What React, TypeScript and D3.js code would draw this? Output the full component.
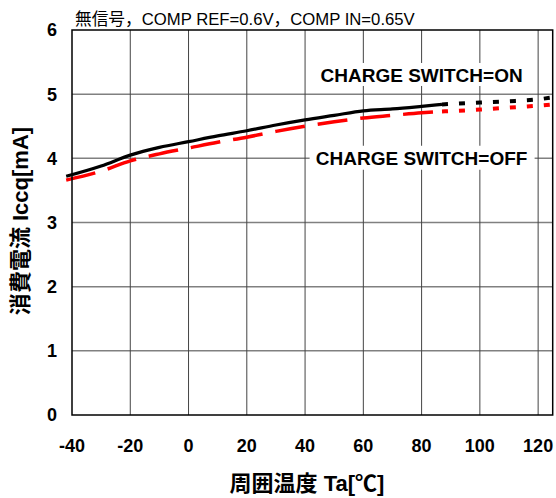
import React from "react";
import * as d3 from "d3";

// ---- data ----
const onTemps = [-42, -30, -20, -10, 0, 10, 20, 30, 40, 50, 60, 70, 80, 87];
const onValues = [3.72, 3.88, 4.05, 4.17, 4.26, 4.35, 4.43, 4.52, 4.6, 4.67, 4.74, 4.77, 4.81, 4.84];
const onExtTemps = [87, 100, 110, 120, 125];
const onExtValues = [4.84, 4.87, 4.89, 4.92, 4.95];

const offTemps = [-42, -30, -20, -10, 0, 10, 20, 30, 40, 50, 60, 70, 80, 87];
const offValues = [3.66, 3.8, 3.96, 4.07, 4.16, 4.25, 4.33, 4.42, 4.5, 4.57, 4.63, 4.67, 4.71, 4.73];
const offExtTemps = [87, 100, 110, 120, 125];
const offExtValues = [4.73, 4.76, 4.79, 4.82, 4.84];

const xTicks = [-40, -20, 0, 20, 40, 60, 80, 100, 120];
const yTicks = [0, 1, 2, 3, 4, 5, 6];

const titleText = "無信号，COMP REF=0.6V，COMP IN=0.65V";
const xTitle = "周囲温度 Ta[℃]";
const yTitle = "消費電流 Iccq[mA]";
const onLabel = "CHARGE SWITCH=ON";
const offLabel = "CHARGE SWITCH=OFF";

const FONT = "'Liberation Sans', Arial, 'Noto Sans CJK JP', sans-serif";

export default function App() {
  const W = 556;
  const H = 498;
  const left = 72;
  const right = 552.7;
  const top = 30;
  const bottom = 415;

  const x = d3.scaleLinear().domain([-40, 125]).range([left, right]);
  const y = d3.scaleLinear().domain([0, 6]).range([bottom, top]);

  const line = d3
    .line<[number, number]>()
    .x((d) => x(d[0]))
    .y((d) => y(d[1]))
    .curve(d3.curveMonotoneX);

  const zip = (a: number[], b: number[]) => a.map((t, i) => [t, b[i]] as [number, number]);

  return (
    <svg width={W} height={H} style={{ position: "absolute", left: 0, top: 0, background: "#fff" }}>
      <rect x={0} y={0} width={W} height={H} fill="#fff" />
      {/* horizontal gridlines */}
      {yTicks.slice(1, -1).map((v) => (
        <line key={"h" + v} x1={left} x2={right} y1={y(v)} y2={y(v)} stroke="#808080" strokeWidth={1.5} />
      ))}
      {/* vertical gridlines */}
      {xTicks.slice(1).map((v) => (
        <line key={"v" + v} x1={x(v)} x2={x(v)} y1={top} y2={bottom} stroke="#444" strokeWidth={1} />
      ))}
      {/* label backgrounds */}
      <rect x={x(80) - 107} y={y(5.19) - 19} width={214} height={23} fill="#fff" />
      <rect x={x(80) - 112} y={y(3.9) - 19} width={225} height={24} fill="#fff" />

      {/* series */}
      <path d={line(zip(onTemps, onValues)) || ""} fill="none" stroke="#000" strokeWidth={3.2} />
      <path
        d={line(zip(onExtTemps, onExtValues)) || ""}
        fill="none"
        stroke="#000"
        strokeWidth={4}
        strokeDasharray="6 11"
      />
      <path
        d={line(zip(offTemps, offValues)) || ""}
        fill="none"
        stroke="#ff0000"
        strokeWidth={3.5}
        strokeDasharray="30 13"
      />
      <path
        d={line(zip(offExtTemps, offExtValues)) || ""}
        fill="none"
        stroke="#ff0000"
        strokeWidth={4}
        strokeDasharray="6 11"
      />

      {/* plot border */}
      <rect x={left} y={top} width={right - left} height={bottom - top} fill="none" stroke="#000" strokeWidth={1.5} />

      {/* annotations */}
      <text x={x(80)} y={y(5.19)} textAnchor="middle" fontFamily={FONT} fontWeight="bold" fontSize={19} fill="#000">
        {onLabel}
      </text>
      <text x={x(80)} y={y(3.9)} textAnchor="middle" fontFamily={FONT} fontWeight="bold" fontSize={19} fill="#000">
        {offLabel}
      </text>

      {/* y tick labels */}
      {yTicks.map((v) => (
        <text
          key={"yl" + v}
          x={57}
          y={y(v)}
          dy="0.36em"
          textAnchor="end"
          fontFamily={FONT}
          fontWeight="bold"
          fontSize={18}
        >
          {v}
        </text>
      ))}
      {/* x tick labels */}
      {xTicks.map((v) => (
        <text
          key={"xl" + v}
          x={x(v)}
          y={452}
          textAnchor="middle"
          fontFamily={FONT}
          fontWeight="bold"
          fontSize={18}
        >
          {v}
        </text>
      ))}

      {/* titles */}
      <text x={75} y={25} fontFamily={FONT} fontSize={16.7} fill="#000">
        {titleText}
      </text>
      <text x={307} y={491} textAnchor="middle" fontFamily={FONT} fontWeight="bold" fontSize={22}>
        {xTitle}
      </text>
      <text
        transform={`translate(28, 221) rotate(-90)`}
        textAnchor="middle"
        fontFamily={FONT}
        fontWeight="bold"
        fontSize={22}
      >
        {yTitle}
      </text>
    </svg>
  );
}
